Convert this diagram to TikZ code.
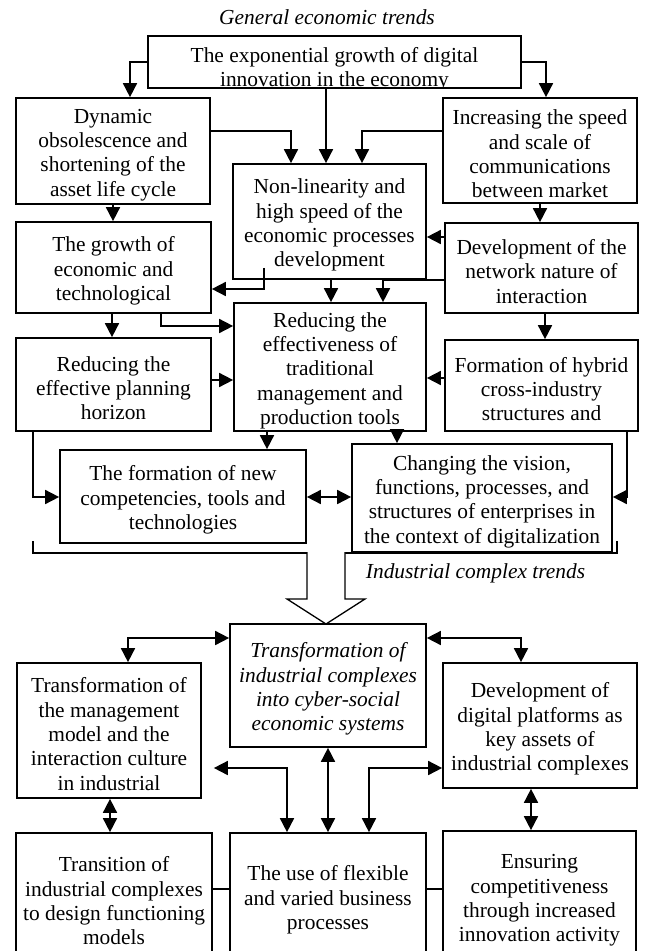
\documentclass[tikz,border=0pt]{standalone}
\usepackage{fontspec}
\setmainfont{Liberation Serif}
\usetikzlibrary{arrows.meta}
% taller first line, so that box texts sit a little low
\newcommand\boxstrut{\rule{0pt}{22pt}}
\begin{document}
\begin{tikzpicture}[x=1pt,y=-1pt,
  txt/.style={align=center, inner sep=0pt, font=\fontsize{21.4pt}{24.3pt}\selectfont},
  box/.style={txt, draw, line width=1.7pt},
  tip/.tip={Triangle[length=14pt,width=14pt]},
  conn/.style={line width=1.7pt, -tip},
  biconn/.style={line width=1.7pt, tip-tip},
  link/.style={line width=1.7pt},
  heading/.style={txt, font=\fontsize{21.4pt}{24.3pt}\selectfont\itshape}]
\useasboundingbox (0,0) rectangle (648,951);
\clip (0,0) rectangle (648,951);

% ---------- general economic trends ----------
\node[heading] (title1) at (327,17) {General economic trends};

\begin{scope}
  \clip (148,36) rectangle (521,87);
  \node[txt] (toptext) at (334.5,69) {The exponential growth of digital\\innovation in the economy};
\end{scope}
\node[draw, line width=1.7pt, inner sep=0pt, minimum width=373pt, minimum height=52pt] (top) at (334.5,62) {};

\node[box, minimum width=194pt, minimum height=106pt] (dyn) at (113,151)
  {\boxstrut Dynamic\\obsolescence and\\shortening of the\\asset life cycle};
\node[box, minimum width=194pt, minimum height=105pt] (inc) at (540,150.5)
  {\boxstrut Increasing the speed\\and scale of\\communications\\between market};
\node[box, minimum width=193pt, minimum height=115pt] (nonlin) at (329.5,221.5)
  {\boxstrut Non-linearity and\\high speed of the\\economic processes\\development};
\node[box, minimum width=195pt, minimum height=91pt] (grow) at (113.5,267.5)
  {\boxstrut The growth of\\economic and\\technological};
\node[box, minimum width=193pt, minimum height=90pt] (dev) at (541.5,268)
  {\boxstrut Development of the\\network nature of\\interaction};
\node[box, minimum width=192pt, minimum height=128pt] (red) at (330,367)
  {\boxstrut Reducing the\\effectiveness of\\traditional\\management and\\production tools};
\node[box, minimum width=195pt, minimum height=93pt] (plan) at (113.5,384.5)
  {\boxstrut Reducing the\\effective planning\\horizon};
\node[box, minimum width=193pt, minimum height=91pt] (form) at (541.5,385.5)
  {\boxstrut Formation of hybrid\\cross-industry\\structures and};
\node[box, minimum width=246pt, minimum height=93pt] (comp) at (183,496.5)
  {\boxstrut The formation of new\\competencies, tools and\\technologies};
\node[box, minimum width=260pt, minimum height=108pt] (chg) at (482,498)
  {\boxstrut Changing the vision,\\functions, processes, and\\structures of enterprises in\\the context of digitalization};

% routing points
\coordinate (a1) at (130,62);
\coordinate (a2) at (546,62);
\coordinate (a3) at (326,0);
\coordinate (a4) at (291,131);
\coordinate (a5) at (362,131);
\coordinate (a6) at (113,0);
\coordinate (a7) at (540,0);
\coordinate (a8) at (0,237);
\coordinate (a9) at (264,289);
\coordinate (a10) at (331,0);
\coordinate (a11) at (383,0);
\coordinate (a12) at (161,326);
\coordinate (a13) at (112,0);
\coordinate (a14) at (545,0);
\coordinate (a15) at (0,380);
\coordinate (a16) at (0,378);
\coordinate (a17) at (267,0);
\coordinate (a18) at (397,0);
\coordinate (a19) at (33,497);
\coordinate (a20) at (627,497);

\draw[conn] (top.west |- a1) -| (a1 |- dyn.north);
\draw[conn] (top.east |- a2) -| (a2 |- inc.north);
\draw[conn] (a3 |- top.south) -- (a3 |- nonlin.north);
\draw[conn] (dyn.east |- a4) -| (a4 |- nonlin.north);
\draw[conn] (inc.west |- a5) -| (a5 |- nonlin.north);
\draw[conn] (a6 |- dyn.south) -- (a6 |- grow.north);
\draw[conn] (a7 |- inc.south) -- (a7 |- dev.north);
\draw[conn] (dev.west |- a8) -- (nonlin.east |- a8);
\draw[conn] ([yshift=12pt]a9 |- nonlin.south) -- (a9) -- (grow.east |- a9);
\draw[conn] (a10 |- nonlin.south) -- (a10 |- red.north);
\draw[conn] (dev.west |- nonlin.south) -| (a11 |- red.north);
\draw[conn] (a12 |- grow.south) |- (red.west |- a12);
\draw[conn] (a13 |- grow.south) -- (a13 |- plan.north);
\draw[conn] (a14 |- dev.south) -- (a14 |- form.north);
\draw[conn] (plan.east |- a15) -- (red.west |- a15);
\draw[conn] (form.west |- a16) -- (red.east |- a16);
\draw[conn] (a17 |- red.south) -- (a17 |- comp.north);
\draw[conn] (a18 |- red.south) -- (a18 |- chg.north);
\draw[conn] (a19 |- plan.south) |- (comp.west |- a19);
\draw[conn] (a20 |- form.south) |- (chg.east |- a20);
\draw[biconn] (comp.east |- a19) -- (chg.west |- a19);

% bracket gathering the upper block
\coordinate (b1) at (33,541);
\coordinate (b2) at (617,541);
\draw[link] (b1) -- (b1 |- chg.south) -- (b2 |- chg.south) -- (b2);

% hollow transition arrow
\draw[line width=1.3pt, fill=white, line join=miter]
  (307,552) -- (307,599) -- (287,599) -- (326,624) -- (365,599) -- (345,599) -- (345,552);
\node[heading] (title2) at (475.5,573) {Industrial complex trends};

% ---------- industrial complex trends ----------
\node[box, minimum width=196pt, minimum height=123pt, font=\fontsize{21.4pt}{24.3pt}\selectfont\itshape] (trans) at (328,685.5)
  {\boxstrut Transformation of\\industrial complexes\\into cyber-social\\economic systems};
\node[box, minimum width=184pt, minimum height=135pt] (mgmt) at (109,730.5)
  {\boxstrut Transformation of\\the management\\model and the\\interaction culture\\in industrial};
\node[box, minimum width=194pt, minimum height=125pt] (plat) at (540,725.5)
  {\boxstrut Development of\\digital platforms as\\key assets of\\industrial complexes};
\node[box, minimum width=196pt, minimum height=129pt] (trn) at (114,897.5)
  {\boxstrut Transition of\\industrial complexes\\to design functioning\\models};
\node[box, minimum width=196pt, minimum height=127pt] (use) at (328,896.5)
  {\boxstrut The use of flexible\\and varied business\\processes};
\node[box, minimum width=193pt, minimum height=131pt] (ens) at (539.5,896.5)
  {\boxstrut Ensuring\\competitiveness\\through increased\\innovation activity};

\coordinate (c1) at (128,638);
\coordinate (c2) at (521,638);
\coordinate (c3) at (287,768);
\coordinate (c4) at (328,0);
\coordinate (c5) at (369,768);
\coordinate (c6) at (110,0);
\coordinate (c7) at (531,0);
\coordinate (c8) at (0,889);

\draw[biconn] (trans.west |- c1) -| (c1 |- mgmt.north);
\draw[biconn] (trans.east |- c2) -| (c2 |- plat.north);
\draw[biconn, shorten >=12pt] (c3 |- use.north) |- (mgmt.east |- c3);
\draw[biconn] (c4 |- use.north) -- (c4 |- trans.south);
\draw[biconn] (c5 |- use.north) |- (plat.west |- c5);
\draw[biconn] (c6 |- mgmt.south) -- (c6 |- trn.north);
\draw[biconn] (c7 |- plat.south) -- (c7 |- ens.north);
\draw[link] (trn.east |- c8) -- (use.west |- c8);
\draw[link] (use.east |- c8) -- (ens.west |- c8);
\end{tikzpicture}
\end{document}
